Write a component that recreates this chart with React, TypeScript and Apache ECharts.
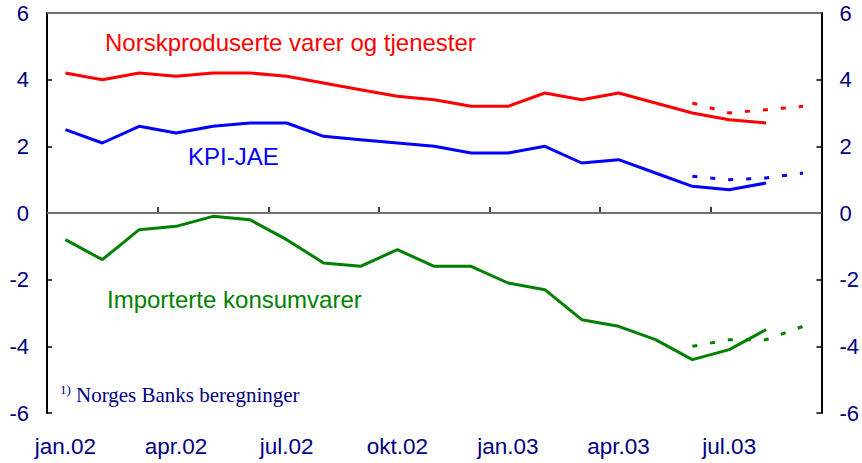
import React, { useEffect, useRef } from "react";
import * as echarts from "echarts";

const months = [
  "jan.02", "feb.02", "mar.02", "apr.02", "mai.02", "jun.02", "jul.02", "aug.02", "sep.02",
  "okt.02", "nov.02", "des.02", "jan.03", "feb.03", "mar.03", "apr.03", "mai.03", "jun.03",
  "jul.03", "aug.03", "sep.03",
];

const norskproduserte = [4.2, 4.0, 4.2, 4.1, 4.2, 4.2, 4.1, 3.9, 3.7, 3.5, 3.4, 3.2, 3.2, 3.6, 3.4, 3.6, 3.3, 3.0, 2.8, 2.7, null];
const kpiJae = [2.5, 2.1, 2.6, 2.4, 2.6, 2.7, 2.7, 2.3, 2.2, 2.1, 2.0, 1.8, 1.8, 2.0, 1.5, 1.6, 1.2, 0.8, 0.7, 0.9, null];
const importerte = [-0.8, -1.4, -0.5, -0.4, -0.1, -0.2, -0.8, -1.5, -1.6, -1.1, -1.6, -1.6, -2.1, -2.3, -3.2, -3.4, -3.8, -4.4, -4.1, -3.5, null];

const norskproduserteProg = [null, null, null, null, null, null, null, null, null, null, null, null, null, null, null, null, null, 3.3, 3.0, 3.1, 3.2];
const kpiJaeProg = [null, null, null, null, null, null, null, null, null, null, null, null, null, null, null, null, null, 1.1, 1.0, 1.05, 1.2];
const importerteProg = [null, null, null, null, null, null, null, null, null, null, null, null, null, null, null, null, null, -4.0, -3.8, -3.8, -3.4];

const yMin = -6;
const yMax = 6;
const yStep = 2;

const RED = "#ff0000";
const BLUE = "#0000ff";
const GREEN = "#008000";
const NAVY = "#000080";
const SANS = "'Liberation Sans', Arial, sans-serif";
const SERIF = "'Liberation Serif', 'Times New Roman', serif";

export default function App() {
  const ref = useRef<HTMLDivElement>(null);

  useEffect(() => {
    if (!ref.current) return;
    const chart = echarts.init(ref.current, undefined, { renderer: "svg" });

    const dashed = [5, 13];
    const solidSeries = (name: string, data: (number | null)[], color: string) => ({
      name,
      type: "line",
      data,
      symbol: "none",
      lineStyle: { color, width: 3 },
      itemStyle: { color },
      connectNulls: false,
      z: 3,
    });
    const dashedSeries = (name: string, data: (number | null)[], color: string) => ({
      name,
      type: "line",
      data,
      symbol: "none",
      lineStyle: { color, width: 3, type: dashed },
      itemStyle: { color },
      z: 3,
    });

    const yAxisCommon = {
      type: "value",
      min: yMin,
      max: yMax,
      interval: yStep,
      splitLine: { show: false },
      axisLine: { show: true, lineStyle: { color: "#000", width: 2 } },
      axisTick: { show: true, inside: true, length: 5, lineStyle: { color: "#000", width: 1.5 } },
      axisLabel: { color: NAVY, fontSize: 22, fontFamily: SANS, margin: 18 },
    };

    chart.setOption({
      animation: false,
      grid: { left: 47, right: 40, top: 13, bottom: 50, containLabel: false },
      xAxis: {
        type: "category",
        data: months,
        boundaryGap: true,
        axisLine: { show: true, lineStyle: { color: "#000", width: 2 } },
        axisTick: { show: true, inside: true, interval: 2, length: 6, lineStyle: { color: "#000", width: 1.5 } },
        axisLabel: { interval: 2, color: NAVY, fontSize: 22.5, fontFamily: SANS, margin: 22 },
        splitLine: { show: false },
      },
      yAxis: [
        { ...yAxisCommon, position: "left" },
        { ...yAxisCommon, position: "right" },
      ],
      series: [
        {
          ...solidSeries("Norskproduserte varer og tjenester", norskproduserte, RED),
          markLine: {
            silent: true,
            symbol: "none",
            label: { show: false },
            lineStyle: { color: "#707070", width: 2, type: "solid" },
            data: [{ yAxis: 0 }, { yAxis: yMax }],
            z: 1,
          },
        },
        solidSeries("KPI-JAE", kpiJae, BLUE),
        solidSeries("Importerte konsumvarer", importerte, GREEN),
        dashedSeries("Norskproduserte prognose", norskproduserteProg, RED),
        dashedSeries("KPI-JAE prognose", kpiJaeProg, BLUE),
        dashedSeries("Importerte prognose", importerteProg, GREEN),
      ],
      graphic: [
        {
          type: "text",
          x: 105,
          y: 42,
          style: { text: "Norskproduserte varer og tjenester", fill: RED, fontSize: 24, fontFamily: SANS, verticalAlign: "middle" },
        },
        {
          type: "text",
          x: 188,
          y: 156,
          style: { text: "KPI-JAE", fill: BLUE, fontSize: 24, fontFamily: SANS, verticalAlign: "middle" },
        },
        {
          type: "text",
          x: 107,
          y: 299,
          style: { text: "Importerte konsumvarer", fill: GREEN, fontSize: 24, fontFamily: SANS, verticalAlign: "middle" },
        },
        {
          type: "text",
          x: 60,
          y: 389,
          style: { text: "1)", fill: NAVY, fontSize: 13, fontFamily: SERIF, verticalAlign: "middle" },
        },
        {
          type: "text",
          x: 76,
          y: 395,
          style: { text: "Norges Banks beregninger", fill: NAVY, fontSize: 21, fontFamily: SERIF, verticalAlign: "middle" },
        },
      ],
    });

    return () => chart.dispose();
  }, []);

  return (
    <div
      ref={ref}
      style={{ position: "fixed", left: 0, top: 0, width: 862, height: 463, background: "#fff" }}
    />
  );
}
